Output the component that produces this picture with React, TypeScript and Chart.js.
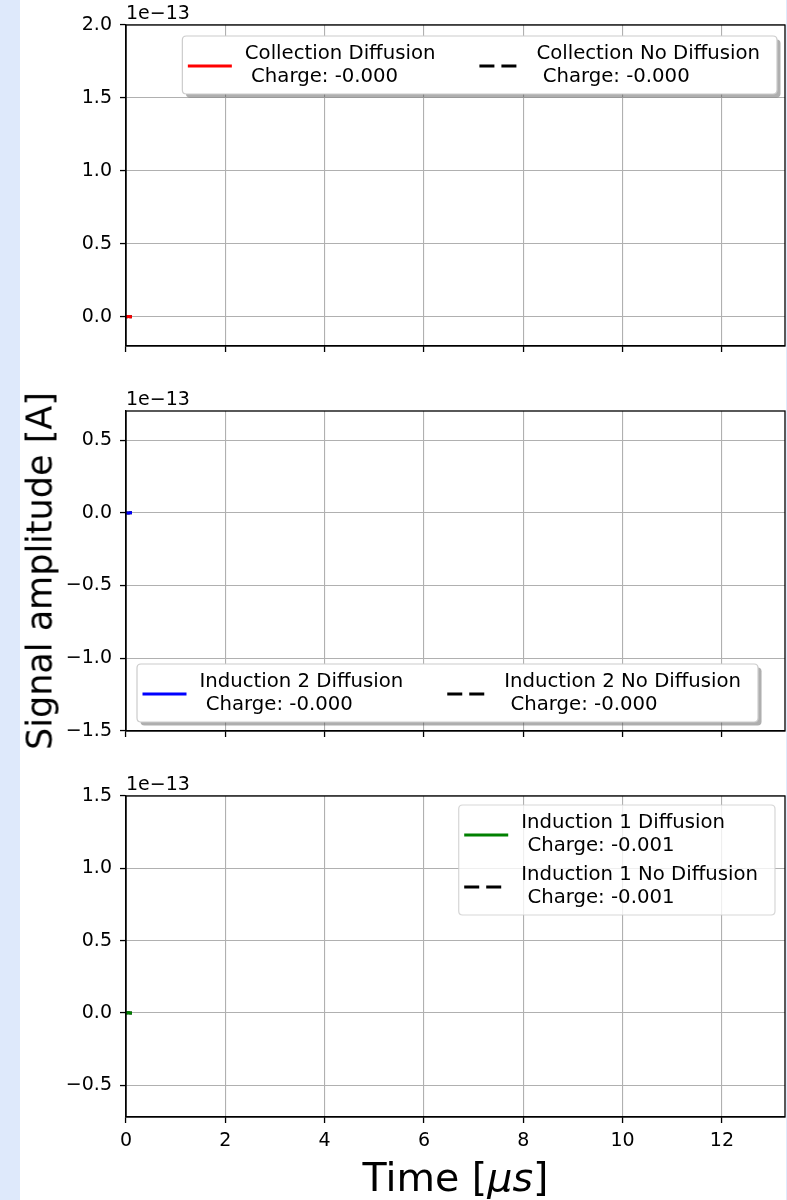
import React, { useEffect, useRef } from 'react';
import { Chart, registerables } from 'chart.js';

Chart.register(...registerables);

// ---------------- data ----------------
const TIME_US = [0, 0.02, 0.04, 0.06, 0.08, 0.1, 0.12];

// signal amplitudes in ampere (tiny compared with the 1e-13 axis scale)
const COLLECTION_DIFFUSION = [0, 1.2e-16, 2.4e-16, 1.5e-16, 0.6e-16, 0.2e-16, 0];
const COLLECTION_NO_DIFFUSION = [0, 1.0e-16, 2.1e-16, 1.3e-16, 0.5e-16, 0.1e-16, 0];
const INDUCTION2_DIFFUSION = [0, -0.8e-16, -1.6e-16, -0.9e-16, 0.4e-16, 0.1e-16, 0];
const INDUCTION2_NO_DIFFUSION = [0, -0.7e-16, -1.4e-16, -0.8e-16, 0.3e-16, 0.1e-16, 0];
const INDUCTION1_DIFFUSION = [0, 0.9e-16, 1.9e-16, 1.2e-16, -0.3e-16, -0.1e-16, 0];
const INDUCTION1_NO_DIFFUSION = [0, 0.8e-16, 1.7e-16, 1.0e-16, -0.2e-16, -0.1e-16, 0];

const PLANE_NAMES = ['Collection', 'Induction 2', 'Induction 1'];
const CHARGE_DIFFUSION = ['-0.000', '-0.000', '-0.001'];
const CHARGE_NO_DIFFUSION = ['-0.000', '-0.000', '-0.001'];

const X_TICKS = [0, 2, 4, 6, 8, 10, 12];
const X_LIMITS = [0, 13.27];

const COLLECTION_Y_TICKS = [0, 0.5, 1.0, 1.5, 2.0];
const COLLECTION_Y_LIMITS = [-0.2, 2.0];
const INDUCTION2_Y_TICKS = [-1.5, -1.0, -0.5, 0, 0.5];
const INDUCTION2_Y_LIMITS = [-1.5, 0.7];
const INDUCTION1_Y_TICKS = [-0.5, 0, 0.5, 1.0, 1.5];
const INDUCTION1_Y_LIMITS = [-0.72, 1.5];

const Y_OFFSET = 1e-13;
const Y_OFFSET_LABEL = '1e\u221213';

const X_TITLE = 'Time [';
const X_TITLE_UNIT = '\u03bcs';
const Y_TITLE = 'Signal amplitude [A]';

// ---------------- styling ----------------
const FONT = '"DejaVu Sans", "Liberation Sans", sans-serif';
const TICK_FS = 19;
const LEG_FS = 19.7;
const CANVAS_LEFT = 20;
const CANVAS_W = 766;

const LEG = {
  padL: 5.5,
  padR: 17,
  handle: 44,
  textPad: 13,
  colSp: 44,
  topBase: 23,
  line: 22.5,
  entryGap: 7,
  bottom: 12.5,
  handleDy: 7,
};

const fmt = (v: number) => {
  const s = (Math.abs(v) < 1e-9 ? 0 : v).toFixed(1);
  return s.replace('-', '\u2212');
};

function roundRect(ctx: CanvasRenderingContext2D, x: number, y: number, w: number, h: number, r: number) {
  ctx.beginPath();
  ctx.moveTo(x + r, y);
  ctx.lineTo(x + w - r, y);
  ctx.quadraticCurveTo(x + w, y, x + w, y + r);
  ctx.lineTo(x + w, y + h - r);
  ctx.quadraticCurveTo(x + w, y + h, x + w - r, y + h);
  ctx.lineTo(x + r, y + h);
  ctx.quadraticCurveTo(x, y + h, x, y + h - r);
  ctx.lineTo(x, y + r);
  ctx.quadraticCurveTo(x, y, x + r, y);
  ctx.closePath();
}

type LegendCfg = { cols: number; anchor: 'tr' | 'bl'; offX: number; offY: number; shadow: boolean; alpha: number };

function drawLegend(chart: any, cfg: LegendCfg) {
  const ctx: CanvasRenderingContext2D = chart.ctx;
  const area = chart.chartArea;
  ctx.save();
  ctx.font = `${LEG_FS}px ${FONT}`;
  const entries = chart.data.datasets.map((d: any) => ({
    lines: String(d.label).split('\n'),
    color: d.borderColor,
    dash: d.borderDash || [],
  }));
  const cols = cfg.cols;
  const rows = Math.ceil(entries.length / cols);
  const colEntries: any[][] = [];
  for (let c = 0; c < cols; c++) colEntries.push(entries.slice(c * rows, (c + 1) * rows));
  const colTextW = colEntries.map((es) =>
    Math.max(...es.flatMap((e: any) => e.lines.map((l: string) => ctx.measureText(l).width)))
  );
  const boxW =
    LEG.padL + colTextW.reduce((a, w) => a + LEG.handle + LEG.textPad + w, 0) + LEG.colSp * (cols - 1) + LEG.padR;
  const nLines = entries[0].lines.length;
  const rowStep = (nLines - 1) * LEG.line + LEG.line + LEG.entryGap;
  const boxH = LEG.topBase + (nLines - 1) * LEG.line + (rows - 1) * rowStep + LEG.bottom;
  let x: number, y: number;
  if (cfg.anchor === 'tr') {
    x = area.right - cfg.offX - boxW;
    y = area.top + cfg.offY;
  } else {
    x = area.left + cfg.offX;
    y = area.bottom - cfg.offY - boxH;
  }
  if (cfg.shadow) {
    roundRect(ctx, x + 3.5, y + 3.5, boxW, boxH, 4);
    ctx.fillStyle = 'rgba(77,77,77,0.45)';
    ctx.fill();
  }
  roundRect(ctx, x, y, boxW, boxH, 4);
  ctx.fillStyle = `rgba(255,255,255,${cfg.alpha})`;
  ctx.fill();
  ctx.strokeStyle = `rgba(204,204,204,${cfg.alpha})`;
  ctx.lineWidth = 1.2;
  ctx.stroke();

  let cx = x + LEG.padL;
  colEntries.forEach((es, c) => {
    es.forEach((e: any, r: number) => {
      const base = y + LEG.topBase + r * rowStep;
      const hy = base + LEG.handleDy;
      ctx.beginPath();
      ctx.setLineDash(e.dash);
      ctx.lineDashOffset = 0;
      ctx.strokeStyle = e.color;
      ctx.lineWidth = 3;
      ctx.lineCap = 'butt';
      ctx.moveTo(cx, hy);
      ctx.lineTo(cx + LEG.handle, hy);
      ctx.stroke();
      ctx.setLineDash([]);
      ctx.fillStyle = '#000';
      ctx.textAlign = 'left';
      ctx.textBaseline = 'alphabetic';
      e.lines.forEach((l: string, k: number) => {
        ctx.fillText(l, cx + LEG.handle + LEG.textPad, base + k * LEG.line);
      });
    });
    cx += LEG.handle + LEG.textPad + colTextW[c] + LEG.colSp;
  });
  ctx.restore();
}

type Spec = {
  top: number;
  h: number;
  chartTop: number;
  chartBottom: number;
  yTicks: number[];
  yLimits: number[];
  diff: number[];
  noDiff: number[];
  color: string;
  name: string;
  chargeDiff: string;
  chargeNoDiff: string;
  showXLabels: boolean;
  legend: LegendCfg;
};

const SPECS: Spec[] = [
  {
    top: 0, h: 385, chartTop: 25, chartBottom: 346,
    yTicks: COLLECTION_Y_TICKS, yLimits: COLLECTION_Y_LIMITS,
    diff: COLLECTION_DIFFUSION, noDiff: COLLECTION_NO_DIFFUSION, color: '#ff0000',
    name: PLANE_NAMES[0], chargeDiff: CHARGE_DIFFUSION[0], chargeNoDiff: CHARGE_NO_DIFFUSION[0],
    showXLabels: false,
    legend: { cols: 2, anchor: 'tr', offX: 8, offY: 11, shadow: true, alpha: 1 },
  },
  {
    top: 385, h: 385, chartTop: 411, chartBottom: 731,
    yTicks: INDUCTION2_Y_TICKS, yLimits: INDUCTION2_Y_LIMITS,
    diff: INDUCTION2_DIFFUSION, noDiff: INDUCTION2_NO_DIFFUSION, color: '#0000ff',
    name: PLANE_NAMES[1], chargeDiff: CHARGE_DIFFUSION[1], chargeNoDiff: CHARGE_NO_DIFFUSION[1],
    showXLabels: false,
    legend: { cols: 2, anchor: 'bl', offX: 11, offY: 9, shadow: true, alpha: 1 },
  },
  {
    top: 770, h: 390, chartTop: 796, chartBottom: 1117,
    yTicks: INDUCTION1_Y_TICKS, yLimits: INDUCTION1_Y_LIMITS,
    diff: INDUCTION1_DIFFUSION, noDiff: INDUCTION1_NO_DIFFUSION, color: '#008000',
    name: PLANE_NAMES[2], chargeDiff: CHARGE_DIFFUSION[2], chargeNoDiff: CHARGE_NO_DIFFUSION[2],
    showXLabels: true,
    legend: { cols: 1, anchor: 'tr', offX: 10, offY: 9, shadow: false, alpha: 0.8 },
  },
];

function buildConfig(spec: Spec): any {
  const framePlugin = {
    id: 'frameAndOffset',
    afterDraw(chart: any) {
      const { ctx, chartArea: a } = chart;
      ctx.save();
      ctx.strokeStyle = '#000';
      ctx.lineWidth = 1.3;
      ctx.strokeRect(a.left, a.top, a.right - a.left, a.bottom - a.top);
      ctx.fillStyle = '#000';
      ctx.font = `${TICK_FS}px ${FONT}`;
      ctx.textAlign = 'left';
      ctx.textBaseline = 'alphabetic';
      ctx.fillText(Y_OFFSET_LABEL, a.left, a.top - 6.5);
      ctx.restore();
      drawLegend(chart, spec.legend);
    },
  };
  const xAxisH = spec.top + spec.h - spec.chartBottom;
  return {
    type: 'scatter',
    data: {
      datasets: [
        {
          label: `${spec.name} Diffusion\n Charge: ${spec.chargeDiff}`,
          data: TIME_US.map((t, i) => ({ x: t, y: spec.diff[i] })),
          borderColor: spec.color,
          backgroundColor: spec.color,
          borderWidth: 3,
          borderDash: [],
          showLine: true,
          pointRadius: 0,
        },
        {
          label: `${spec.name} No Diffusion\n Charge: ${spec.chargeNoDiff}`,
          data: TIME_US.map((t, i) => ({ x: t, y: spec.noDiff[i] })),
          borderColor: '#000000',
          backgroundColor: '#000000',
          borderWidth: 3,
          borderDash: [15, 7],
          showLine: true,
          pointRadius: 0,
        },
      ],
    },
    options: {
      animation: false,
      responsive: false,
      maintainAspectRatio: false,
      events: [],
      layout: { padding: { top: spec.chartTop - spec.top, right: CANVAS_W - (785 - CANVAS_LEFT), left: 0, bottom: 0 } },
      plugins: { legend: { display: false }, tooltip: { enabled: false }, title: { display: false } },
      scales: {
        x: {
          type: 'linear',
          min: X_LIMITS[0],
          max: X_LIMITS[1],
          afterBuildTicks: (s: any) => {
            s.ticks = X_TICKS.map((v) => ({ value: v }));
          },
          afterFit: (s: any) => {
            s.height = xAxisH;
          },
          ticks: {
            autoSkip: false,
            maxRotation: 0,
            padding: 7,
            color: '#000',
            font: { family: FONT, size: TICK_FS },
            callback: (v: number) => (spec.showXLabels ? String(v) : ''),
          },
          grid: { color: '#b0b0b0', lineWidth: 1.1, tickColor: '#000', tickLength: 6, tickWidth: 1.3, drawTicks: true },
          border: { display: true, color: '#000', width: 1.3 },
        },
        y: {
          type: 'linear',
          min: spec.yLimits[0] * Y_OFFSET,
          max: spec.yLimits[1] * Y_OFFSET,
          afterBuildTicks: (s: any) => {
            s.ticks = spec.yTicks.map((v) => ({ value: v * Y_OFFSET }));
          },
          afterFit: (s: any) => {
            s.width = 126 - CANVAS_LEFT;
          },
          ticks: {
            autoSkip: false,
            padding: 8,
            color: '#000',
            font: { family: FONT, size: TICK_FS },
            callback: (v: number) => fmt(v / Y_OFFSET),
          },
          grid: { color: '#b0b0b0', lineWidth: 1.1, tickColor: '#000', tickLength: 6, tickWidth: 1.3, drawTicks: true },
          border: { display: true, color: '#000', width: 1.3 },
        },
      },
    },
    plugins: [framePlugin],
  };
}

function Subplot({ spec }: { spec: Spec }) {
  const ref = useRef<HTMLCanvasElement>(null);
  useEffect(() => {
    if (!ref.current) return;
    const chart = new Chart(ref.current, buildConfig(spec));
    return () => chart.destroy();
  }, [spec]);
  return (
    <canvas
      ref={ref}
      width={CANVAS_W}
      height={spec.h}
      style={{ position: 'absolute', left: CANVAS_LEFT, top: spec.top, width: CANVAS_W, height: spec.h }}
    />
  );
}

export default function App() {
  return (
    <div
      style={{
        position: 'absolute',
        left: 0,
        top: 0,
        width: 787,
        height: 1200,
        background: '#ffffff',
        overflow: 'hidden',
        fontFamily: FONT,
      }}
    >
      {SPECS.map((s, i) => (
        <Subplot key={i} spec={s} />
      ))}
      <div style={{ position: 'absolute', left: 0, top: 0, width: 20, height: 1200, background: '#dee9fb' }} />
      <div style={{ position: 'absolute', left: 786, top: 0, width: 1, height: 1200, background: '#dee9fb' }} />
      <div
        style={{
          position: 'absolute',
          left: 40,
          top: 571,
          transform: 'translate(-50%, -50%) rotate(-90deg)',
          fontSize: 35,
          lineHeight: 1,
          whiteSpace: 'nowrap',
          color: '#000',
        }}
      >
        {Y_TITLE}
      </div>
      <div
        style={{
          position: 'absolute',
          left: 455.5,
          top: 1158,
          transform: 'translateX(-50%)',
          fontSize: 39.5,
          lineHeight: 1,
          whiteSpace: 'nowrap',
          color: '#000',
        }}
      >
        {X_TITLE}
        <i>{X_TITLE_UNIT}</i>]
      </div>
    </div>
  );
}
